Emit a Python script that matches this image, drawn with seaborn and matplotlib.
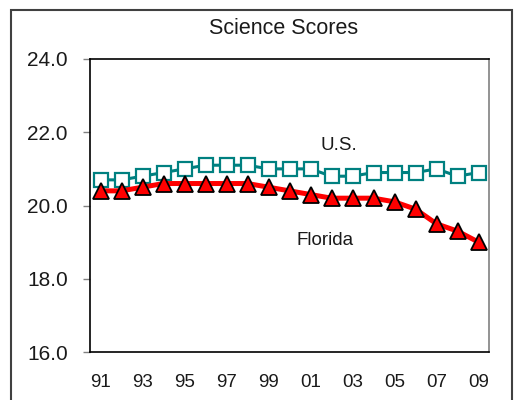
import matplotlib
matplotlib.use("Agg")
import matplotlib.pyplot as plt
import seaborn as sns
import pandas as pd
from matplotlib.patches import Rectangle

years = list(range(1991, 2010))
florida = [20.4, 20.4, 20.5, 20.6, 20.6, 20.6, 20.6, 20.6, 20.5, 20.4,
           20.3, 20.2, 20.2, 20.2, 20.1, 19.9, 19.5, 19.3, 19.0]
us = [20.7, 20.7, 20.8, 20.9, 21.0, 21.1, 21.1, 21.1, 21.0, 21.0,
      21.0, 20.8, 20.8, 20.9, 20.9, 20.9, 21.0, 20.8, 20.9]
tick_years = list(range(1991, 2010, 2))
tick_labels = ["91", "93", "95", "97", "99", "01", "03", "05", "07", "09"]
y_ticks = [16.0, 18.0, 20.0, 22.0, 24.0]

sns.set_theme(style="white")
plt.rcParams['font.family'] = ['Liberation Sans', 'DejaVu Sans']

df_us = pd.DataFrame({"year": years, "score": us})
df_fl = pd.DataFrame({"year": years, "score": florida})

fig = plt.figure(figsize=(5.17, 4.0), dpi=100)
ax = fig.add_axes([90 / 517, 1 - 352 / 400, 399 / 517, 293 / 400])

sns.lineplot(data=df_us, x="year", y="score", ax=ax, color="#008080",
             linewidth=2.2, marker="s", markersize=10.5, markerfacecolor="white",
             markeredgecolor="#008080", markeredgewidth=1.6, zorder=3)
sns.lineplot(data=df_fl, x="year", y="score", ax=ax, color="#FF0000",
             linewidth=3.6, marker="^", markersize=12, markerfacecolor="#FF0000",
             markeredgecolor="black", markeredgewidth=1.3, zorder=4)

ax.set_xlim(1990.5, 2009.5)
ax.set_ylim(16.0, 24.0)
ax.set_xticks(tick_years)
ax.set_xticklabels(tick_labels)
ax.set_yticks(y_ticks)
ax.set_yticklabels([f"{v:.1f}" for v in y_ticks])
ax.set_xlabel("")
ax.set_ylabel("")

ax.tick_params(axis="x", length=0, pad=16, labelsize=13.5, colors="#1a1a1a")
ax.tick_params(axis="y", left=True, length=5, width=1, color="#808080",
               pad=11, labelsize=15, labelcolor="#1a1a1a")

for side in ["left", "bottom", "top"]:
    ax.spines[side].set_color("black")
    ax.spines[side].set_linewidth(1.2)
ax.spines["right"].set_color("#808080")
ax.spines["right"].set_linewidth(1.2)

ax.set_title("Science Scores", fontsize=15.5, pad=18, color="#1a1a1a", x=0.486)

ax.text(2002.36, 21.63, "U.S.", fontsize=13.5, ha="center", va="center", color="#1a1a1a")
ax.text(2001.7, 19.04, "Florida", fontsize=13.5, ha="center", va="center", color="#1a1a1a")

fig.patches.append(Rectangle((11 / 517, -0.05), 501 / 517, 1.05 - 10 / 400,
                             transform=fig.transFigure, fill=False,
                             edgecolor="#404040", linewidth=1.5))

fig.savefig("out.png", dpi=100)
